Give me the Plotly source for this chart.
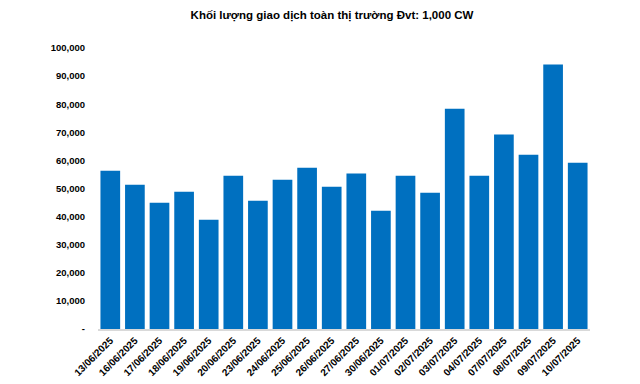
import plotly.graph_objects as go

dates = ["13/06/2025", "16/06/2025", "17/06/2025", "18/06/2025", "19/06/2025",
         "20/06/2025", "23/06/2025", "24/06/2025", "25/06/2025", "26/06/2025",
         "27/06/2025", "30/06/2025", "01/07/2025", "02/07/2025", "03/07/2025",
         "04/07/2025", "07/07/2025", "08/07/2025", "09/07/2025", "10/07/2025"]
volume = [56300, 51300, 44900, 48800, 38900,
          54500, 45600, 53100, 57400, 50600,
          55300, 42100, 54500, 48500, 78400,
          54500, 69200, 62000, 94100, 59200]

y_tickvals = [0, 10000, 20000, 30000, 40000, 50000, 60000, 70000, 80000, 90000, 100000]
y_ticktext = ["-", "10,000", "20,000", "30,000", "40,000", "50,000",
              "60,000", "70,000", "80,000", "90,000", "100,000"]

title = "Khối lượng giao dịch toàn thị trường Đvt: 1,000 CW"

fig = go.Figure(go.Bar(x=dates, y=volume, marker_color="#0070C0",
                       marker_line_width=0))

# page body has an 8px default margin, so the figure is sized/offset accordingly
fig.update_layout(
    width=632, height=376,
    margin=dict(l=90, r=50, t=40, b=55, autoexpand=False),
    paper_bgcolor="white", plot_bgcolor="white",
    bargap=0.2,
    showlegend=False,
    font=dict(family="Liberation Sans, Arial, sans-serif", color="#000000"),
    title=dict(text="<b>" + title + "</b>", x=(332 - 8) / 632, xanchor="center",
               y=1 - 6.5 / 376, yanchor="middle", font=dict(size=11.5, color="#000000")),
    xaxis=dict(type="category", tickangle=-45, showgrid=False, automargin=False,
               showline=True, linecolor="#D9D9D9", linewidth=1.5,
               ticks="", tickfont=dict(size=10, family="Liberation Sans, Arial", weight="bold"),
               ticklabelstandoff=0),
    yaxis=dict(range=[0, 100000], tickvals=y_tickvals, ticktext=y_ticktext,
               showgrid=False, zeroline=False, showline=False, ticks="",
               ticklabelstandoff=12, automargin=False,
               tickfont=dict(size=9.5, family="Liberation Sans, Arial", weight="bold")),
)

fig.write_html("out.html")
